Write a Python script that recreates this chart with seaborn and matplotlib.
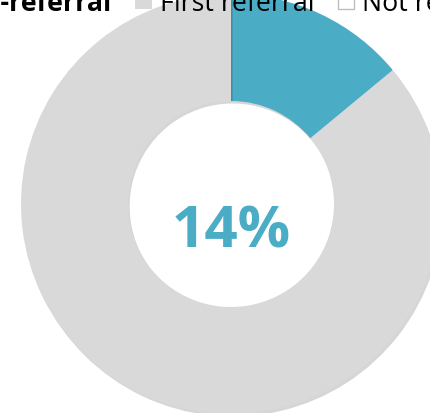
import matplotlib
matplotlib.use("Agg")
import matplotlib.pyplot as plt
import matplotlib.patheffects as pe
from matplotlib.patches import Patch
import seaborn as sns

# Share of referrals
categories = ["Re-referral", "First referral", "Not referred"]
shares = [14, 86]
center_label = "14%"

sns.set_theme(style="white")
plt.rcParams["font.family"] = ["Open Sans", "DejaVu Sans"]
plt.rcParams["text.color"] = "black"

blue = "#4BACC6"
grey = "#D9D9D9"

W, H = 430, 414
fig = plt.figure(figsize=(W / 100, H / 100), dpi=100)
ax = fig.add_axes([0, 0, 1, 1])

cx, cy = 231, H - 205
outer_r, inner_r = 210, 103

wedges, _ = ax.pie(
    shares,
    colors=[blue, grey],
    startangle=90,
    counterclock=False,
    radius=outer_r,
    center=(cx, cy),
    wedgeprops=dict(width=outer_r - inner_r, linewidth=0),
    frame=True,
)
for w in wedges:
    w.set_path_effects([
        pe.SimplePatchShadow(offset=(1.2, -1.8), shadow_rgbFace="#000000", alpha=0.16),
        pe.Normal(),
    ])
ax.set_xlim(0, W)
ax.set_ylim(0, H)
ax.set_aspect("equal")
ax.axis("off")

ax.text(cx, H - 233, center_label, ha="center", va="center",
        fontsize=42, fontweight="bold", color=blue)

handles = [
    Patch(facecolor=blue, edgecolor="none"),
    Patch(facecolor=grey, edgecolor="none"),
    Patch(facecolor="white", edgecolor="#BFBFBF", linewidth=1.0),
]
fs = 19.3
leg = fig.legend(
    handles, categories, loc="lower left", bbox_to_anchor=(0, 0),
    ncol=3, frameon=False, fontsize=fs, handlelength=0.63, handleheight=0.63,
    handletextpad=0.3, columnspacing=0.86, borderpad=0, borderaxespad=0,
    labelcolor="black",
)
leg.get_texts()[0].set_fontweight("bold")

# place the legend row along the top edge
fig.canvas.draw()
r = fig.canvas.get_renderer()
tb = leg.get_texts()[1].get_window_extent(r)
lb = leg.get_window_extent(r)
dx = 160 - tb.x0
dy = (H - 18) - tb.y0
leg.set_bbox_to_anchor(((lb.x0 + dx) / W, (lb.y0 + dy) / H), transform=fig.transFigure)

fig.savefig("out.png", dpi=100)
